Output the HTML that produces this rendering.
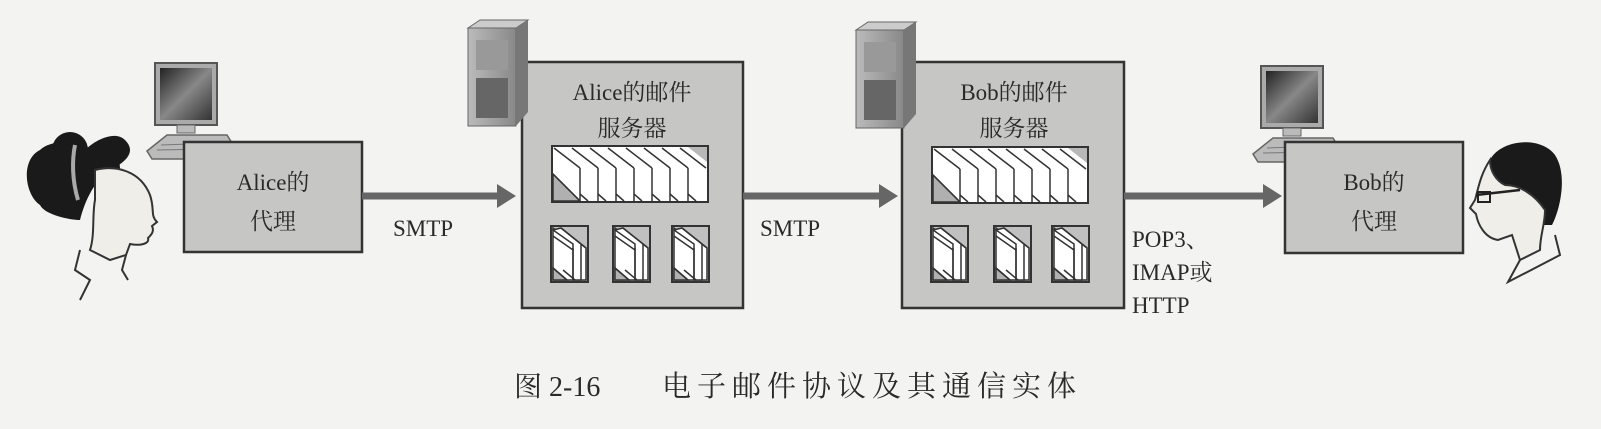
<!DOCTYPE html>
<html><head><meta charset="utf-8"><style>
html,body{margin:0;padding:0;background:#f3f3f1;}
svg{display:block}
text{font-family:"Liberation Serif","Noto Serif CJK SC","Noto Sans CJK SC",serif;fill:#2a2a2a;}
</style></head><body>
<svg width="1601" height="429" viewBox="0 0 1601 429" xmlns="http://www.w3.org/2000/svg">
<defs>
<linearGradient id="scr" x1="0" y1="0" x2="1" y2="1"><stop offset="0" stop-color="#222"/><stop offset="0.5" stop-color="#888"/><stop offset="1" stop-color="#333"/></linearGradient>
<linearGradient id="tw" x1="0" y1="0" x2="1" y2="0"><stop offset="0" stop-color="#bbb"/><stop offset="1" stop-color="#888"/></linearGradient>
<g id="mon">
 <rect x="8" y="0" width="62" height="62" fill="#aaa" stroke="#555" stroke-width="2"/>
 <rect x="13" y="5" width="52" height="52" fill="url(#scr)"/>
 <rect x="30" y="62" width="18" height="8" fill="#bbb" stroke="#666"/>
 <polygon points="0,88 20,72 80,72 85,80 65,96 5,96" fill="#bbb" stroke="#666" stroke-width="1.5"/>
 <line x1="14" y1="82" x2="72" y2="80" stroke="#777"/><line x1="10" y1="87" x2="68" y2="86" stroke="#777"/>
</g>
<g id="tower">
 <polygon points="0,8 12,0 60,0 48,8" fill="#ccc" stroke="#666"/>
 <rect x="0" y="8" width="48" height="98" fill="url(#tw)" stroke="#666"/>
 <polygon points="48,8 60,0 60,92 48,106" fill="#777"/>
 <rect x="8" y="20" width="32" height="30" fill="#999"/>
 <rect x="8" y="58" width="32" height="40" fill="#666"/>
</g>
<g id="env" stroke="#333" stroke-width="1.5">
 <rect x="0" y="0" width="37" height="56" fill="#c0c0c0" stroke-width="2"/>
 <polygon points="2,2 30,24 30,54 2,54" fill="#fff"/>
 <polygon points="2,42 16,54 2,54" fill="#b0b0b0"/>
 <polygon points="10,2 35,22 35,54 22,54 22,18 2,4" fill="#fff"/>
 <line x1="2" y1="10" x2="22" y2="24"/>
 <line x1="22" y1="22" x2="22" y2="54"/>
 <line x1="10" y1="2" x2="35" y2="22"/>
 <line x1="30" y1="18" x2="30" y2="54"/>
 <line x1="2" y1="42" x2="16" y2="54"/>
 <line x1="12" y1="44" x2="24" y2="54"/>
</g>
<g id="queue" stroke="#333" stroke-width="1.5">
 <rect x="0" y="0" width="156" height="56" fill="#b8b8b8" stroke-width="2"/>
 <polygon points="1,1 136,1 155,16 155,55 1,55" fill="#fff" stroke="none"/>
 <polygon points="1,28 28,55 1,55" fill="#b0b0b0"/>
 <line x1="1" y1="28" x2="28" y2="55"/>
 <line x1="2" y1="2" x2="28" y2="22"/><line x1="28" y1="22" x2="28" y2="55"/>
 <line x1="20" y1="2" x2="46" y2="22"/><line x1="46" y1="22" x2="46" y2="55"/>
 <line x1="38" y1="2" x2="64" y2="22"/><line x1="64" y1="22" x2="64" y2="55"/>
 <line x1="56" y1="2" x2="82" y2="22"/><line x1="82" y1="22" x2="82" y2="55"/>
 <line x1="74" y1="2" x2="100" y2="22"/><line x1="100" y1="22" x2="100" y2="55"/>
 <line x1="92" y1="2" x2="118" y2="22"/><line x1="118" y1="22" x2="118" y2="55"/>
 <line x1="110" y1="2" x2="136" y2="22"/><line x1="136" y1="22" x2="136" y2="55"/>
 <line x1="128" y1="2" x2="154" y2="22"/>
 <line x1="28" y1="48" x2="36" y2="55"/><line x1="46" y1="48" x2="54" y2="55"/><line x1="64" y1="48" x2="72" y2="55"/><line x1="82" y1="48" x2="90" y2="55"/><line x1="100" y1="48" x2="108" y2="55"/><line x1="118" y1="48" x2="126" y2="55"/><line x1="136" y1="48" x2="144" y2="55"/>
</g>
</defs>

<!-- Alice person -->
<g>
 <path d="M40,150 C20,160 25,195 40,205 C45,215 70,220 80,220 C85,200 95,180 110,170 C130,160 135,150 125,140 C115,130 95,140 85,150 C75,140 50,140 40,150Z" fill="#1a1a1a"/>
 <circle cx="50" cy="180" r="20" fill="#1a1a1a"/><circle cx="70" cy="150" r="18" fill="#1a1a1a"/><circle cx="100" cy="168" r="20" fill="#1a1a1a"/>
 <path d="M95,170 C115,165 140,170 150,195 C155,210 150,215 157,222 L152,226 C155,232 150,236 148,238 C150,244 140,246 130,244 L126,255 L110,260 L90,250 C95,235 92,215 95,200Z" fill="#f0eee8" stroke="#333" stroke-width="2"/>
 <path d="M75,145 C72,160 72,180 78,200" stroke="#aaa" stroke-width="4" fill="none"/>
 <path d="M80,250 L75,270 L90,280 L80,300" stroke="#333" stroke-width="2" fill="none"/>
 <path d="M126,255 L122,270 L128,280" stroke="#333" stroke-width="2" fill="none"/>
</g>
<use href="#mon" x="147" y="63"/>
<!-- Alice agent -->
<rect x="184" y="142" width="178" height="110" fill="#c6c6c4" stroke="#333" stroke-width="2.5"/>
<text x="273" y="190" font-size="23" text-anchor="middle">Alice的</text>
<text x="273" y="229" font-size="23" text-anchor="middle">代理</text>
<!-- arrow 1 -->
<line x1="362" y1="196" x2="500" y2="196" stroke="#666" stroke-width="7"/>
<polygon points="497,184 516,196 497,208" fill="#666"/>
<text x="393" y="236" font-size="23">SMTP</text>
<!-- Alice server -->
<rect x="522" y="62" width="221" height="246" fill="#c6c6c4" stroke="#333" stroke-width="2.5"/>
<use href="#tower" x="468" y="20"/>
<text x="632" y="100" font-size="23" text-anchor="middle">Alice的邮件</text>
<text x="632" y="136" font-size="23" text-anchor="middle">服务器</text>
<use href="#queue" x="552" y="146"/>
<use href="#env" x="551" y="226"/><use href="#env" x="613" y="226"/><use href="#env" x="672" y="226"/>
<!-- arrow 2 -->
<line x1="743" y1="196" x2="882" y2="196" stroke="#666" stroke-width="7"/>
<polygon points="879,184 898,196 879,208" fill="#666"/>
<text x="760" y="236" font-size="23">SMTP</text>
<!-- Bob server -->
<rect x="902" y="62" width="222" height="246" fill="#c6c6c4" stroke="#333" stroke-width="2.5"/>
<use href="#tower" x="856" y="22"/>
<text x="1014" y="100" font-size="23" text-anchor="middle">Bob的邮件</text>
<text x="1014" y="136" font-size="23" text-anchor="middle">服务器</text>
<use href="#queue" x="932" y="147"/>
<use href="#env" x="931" y="226"/><use href="#env" x="994" y="226"/><use href="#env" x="1052" y="226"/>
<!-- arrow 3 -->
<line x1="1124" y1="196" x2="1266" y2="196" stroke="#666" stroke-width="7"/>
<polygon points="1263,184 1282,196 1263,208" fill="#666"/>
<text x="1132" y="247" font-size="23">POP3、</text>
<text x="1132" y="280" font-size="23">IMAP或</text>
<text x="1132" y="313" font-size="23">HTTP</text>
<!-- Bob agent -->
<use href="#mon" x="1253" y="66"/>
<rect x="1285" y="142" width="178" height="111" fill="#c6c6c4" stroke="#333" stroke-width="2.5"/>
<text x="1374" y="190" font-size="23" text-anchor="middle">Bob的</text>
<text x="1374" y="229" font-size="23" text-anchor="middle">代理</text>
<!-- Bob person -->
<g>
 <path d="M1490,160 C1500,140 1540,135 1555,155 C1568,175 1560,210 1552,225 L1540,225 C1535,200 1525,185 1505,185 C1495,180 1490,170 1490,160Z" fill="#1a1a1a"/>
 <path d="M1490,160 C1480,175 1478,190 1475,200 L1470,208 L1476,214 C1478,225 1485,238 1498,240 L1512,235 L1520,260 L1540,250 C1540,235 1545,225 1545,210 C1535,195 1520,185 1505,185 C1495,180 1490,170 1490,160Z" fill="#f0eee8" stroke="#333" stroke-width="2"/>
 <path d="M1476,195 L1520,190" stroke="#222" stroke-width="2.5"/>
 <rect x="1478" y="192" width="12" height="10" fill="none" stroke="#222" stroke-width="2"/>
 <path d="M1520,260 L1508,282 L1560,255 L1555,235" stroke="#333" stroke-width="2" fill="none"/>
</g>
<!-- caption -->
<text x="514" y="396" font-size="28" style="font-family:'Liberation Serif','Noto Serif CJK SC',serif">图 2-16</text>
<text x="662" y="396" font-size="29" letter-spacing="6" style="font-family:'Noto Serif CJK SC','Noto Sans CJK SC',serif">电子邮件协议及其通信实体</text>
</svg>
</body></html>
